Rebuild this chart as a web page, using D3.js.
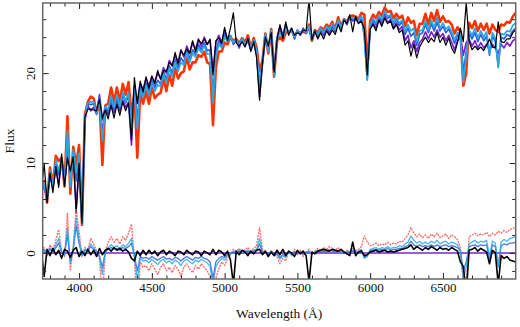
<!DOCTYPE html>
<html>
<head>
<meta charset="utf-8">
<script src="https://cdn.jsdelivr.net/npm/d3@7/dist/d3.min.js"></script>
<style>
  body { margin: 0; background: #fff; }
  svg { display: block; font-family: "Liberation Serif", "DejaVu Serif", serif; }
</style>
</head>
<body>
<div id="chart"></div>
<script>
// wavelength grid (Angstrom), 20 A sampling
const lamStart = 3740, lamStep = 20;

// reference model flux (purple); the model spectra are reference + residual
const fluxRef = [
  6.8, 7.4, 6.0, 8.6, 7.2, 9.4, 7.6, 10.4, 7.8, 10.8,
  8.6, 11.0, 5.0, 9.6, 3.5, 14.8, 16.4, 15.8, 16.2, 15.4,
  17.6, 14.8, 16.2, 15.4, 16.6, 15.6, 16.8, 15.8, 17.0, 16.2,
  16.8, 12.0, 18.6, 16.8, 18.8, 18.2, 19.4, 18.6, 19.6, 19.0,
  20.0, 19.4, 20.6, 20.0, 21.4, 20.8, 22.0, 21.2, 22.6, 21.8,
  23.0, 22.2, 23.4, 22.6, 23.8, 23.0, 24.0, 23.2, 23.6, 20.2,
  23.4, 24.2, 23.4, 24.8, 23.8, 24.2, 23.2, 23.6, 22.8, 23.8,
  23.0, 23.6, 22.6, 23.4, 22.0, 17.4, 21.0, 24.2, 22.6, 24.6,
  19.8, 24.0, 25.2, 24.2, 25.4, 24.4, 25.0, 23.8, 24.8, 24.2,
  25.0, 24.4, 25.0, 23.8, 24.6, 24.0, 24.8, 24.2, 25.0, 24.4,
  25.2, 24.6, 25.6, 25.0, 26.0, 25.4, 26.2, 25.8, 26.0, 25.6,
  26.0, 24.6, 19.6, 25.0, 25.6, 25.0, 26.0, 25.4, 26.4, 25.6,
  26.0, 25.0, 25.6, 24.8, 25.2, 23.6, 24.2, 22.8, 23.6, 22.4,
  23.4, 23.8, 24.6, 23.8, 24.6, 24.0, 24.8, 24.0, 24.4, 23.6,
  24.2, 23.4, 22.6, 23.6, 24.0, 22.0, 23.4, 23.8, 23.0, 23.6,
  22.8, 23.4, 22.8, 23.2, 22.6, 23.2, 22.8, 22.2, 23.2, 22.8,
  23.4, 23.0, 23.6, 23.8
];

// residuals of the models (model - reference)
const resRed = [
  0.2, 0.6, -0.4, 0.9, 0.3, 1.4, 2.6, 0.2, -0.4, 4.4,
  -2.0, 0.8, 4.8, 2.4, -0.4, 0.6, 0.4, 1.6, 1.0, 0.2,
  -0.6, -5.0, 0.2, 1.2, 1.8, 1.2, 1.6, 1.0, 1.8, 1.4,
  2.2, 3.2, -0.6, -6.2, -1.0, -1.6, -1.4, -2.0, -1.2, -1.8,
  -2.4, -1.6, -1.2, -2.0, -1.6, -2.2, -1.4, -1.8, -2.6, -1.6,
  -1.2, -1.8, -2.2, -1.4, -1.8, -1.2, -1.6, -2.0, -2.6, -6.0,
  -2.8, -1.8, -1.0, -1.4, -0.6, -0.2, 0.4, 0.2, 0.5, 0.1,
  0.4, 0.6, 0.2, 0.5, 0.8, 2.8, 0.4, 0.2, -0.4, 0.3,
  -0.2, -0.4, -1.2, -0.6, -0.9, 0.2, -0.3, 0.4, -0.2, 0.3,
  -0.4, 0.1, 0.4, -0.2, 0.2, 0.5, 0.3, 0.6, 0.4, 0.7,
  0.5, 0.3, 0.6, 0.2, 0.0, 0.3, 0.1, 0.6, 0.3, 0.4,
  0.7, 1.9, 1.2, 0.8, 0.9, 1.1, 0.8, 1.0, 0.9, 1.2,
  0.9, 1.1, 1.0, 1.3, 1.2, 1.6, 2.0, 2.8, 2.2, 1.8,
  2.1, 1.7, 2.0, 1.6, 2.1, 1.8, 2.2, 1.7, 1.9, 2.1,
  1.6, 2.0, 1.8, 1.5, 0.6, -3.4, -3.4, 1.8, 2.0, 2.2,
  1.9, 2.1, 2.0, 2.3, 1.8, 2.2, 2.0, 2.4, 2.2, 2.5,
  2.3, 2.6, 2.7, 2.9
];
const resCyan = [
  0.1, 0.4, -0.2, 0.6, 0.2, 0.9, 1.6, 0.1, -0.3, 2.8,
  -1.2, 0.5, 3.9, 1.5, -0.3, 0.4, 0.3, 1.0, 0.6, 0.1,
  -0.4, -2.4, 0.1, 0.6, 0.9, 0.6, 0.8, 0.5, 0.9, 0.7,
  1.1, 1.6, -0.4, -3.0, -0.6, -0.9, -0.8, -1.1, -0.7, -1.0,
  -1.3, -0.9, -0.7, -1.1, -0.9, -1.2, -0.8, -1.0, -1.4, -0.9,
  -0.7, -1.0, -1.2, -0.8, -1.0, -0.7, -0.9, -1.1, -1.5, -3.6,
  -1.5, -1.0, -0.6, -0.8, -0.3, -0.1, 0.2, 0.1, 0.3, 0.0,
  0.2, 0.3, 0.1, 0.3, 0.4, 1.6, 0.2, 0.1, -0.2, 0.2,
  -0.1, -0.2, -0.7, -0.3, -0.5, 0.1, -0.2, 0.2, -0.1, 0.2,
  -0.2, 0.1, 0.2, -0.1, 0.1, 0.3, 0.2, 0.3, 0.2, 0.4,
  0.3, 0.2, 0.3, 0.1, 0.0, 0.2, 0.1, 0.3, 0.2, 0.2,
  0.4, -0.6, -0.4, 0.4, 0.5, 0.6, 0.4, 0.6, 0.5, 0.7,
  0.5, 0.6, 0.6, 0.8, 0.7, 1.0, 1.2, 1.9, 1.4, 1.1,
  1.3, 1.0, 1.2, 1.0, 1.3, 1.1, 1.4, 1.0, 1.2, 1.3,
  1.0, 1.2, 1.1, 0.9, 0.3, -3.0, -1.5, 1.0, 1.2, 1.4,
  1.1, 1.3, 1.2, 1.4, -0.4, 1.3, 1.1, -1.6, 1.2, 1.5,
  1.3, 1.6, 1.7, 1.8
];
const resBlue = [
  0.0, 0.3, -0.1, 0.4, 0.1, 0.6, 1.1, 0.0, -0.2, 2.0,
  -0.9, 0.3, 3.0, 1.0, -0.2, 0.3, 0.2, 0.7, 0.4, 0.1,
  -0.3, -1.6, 0.1, 0.4, 0.6, 0.4, 0.5, 0.3, 0.6, 0.5,
  0.7, 1.1, -0.3, -2.0, -0.4, -0.6, -0.5, -0.7, -0.4, -0.6,
  -0.8, -0.6, -0.4, -0.7, -0.6, -0.8, -0.5, -0.6, -0.9, -0.6,
  -0.4, -0.6, -0.8, -0.5, -0.6, -0.4, -0.6, -0.7, -1.0, -2.8,
  -1.0, -0.6, -0.4, -0.5, -0.2, -0.1, 0.1, 0.1, 0.2, 0.0,
  0.1, 0.2, 0.1, 0.2, 0.3, 1.0, 0.1, 0.1, -0.1, 0.1,
  -0.1, -0.1, -0.5, -0.2, -0.3, 0.1, -0.1, 0.1, -0.1, 0.1,
  -0.1, 0.1, 0.1, -0.1, 0.1, 0.2, 0.1, 0.2, 0.1, 0.3,
  0.2, 0.1, 0.2, 0.1, 0.0, 0.1, 0.1, 0.2, 0.1, 0.1,
  0.3, -0.5, -0.3, 0.3, 0.3, 0.4, 0.3, 0.4, 0.3, 0.5,
  0.3, 0.4, 0.4, 0.5, 0.5, 0.7, 0.8, 1.3, 0.9, 0.7,
  0.9, 0.7, 0.8, 0.7, 0.9, 0.7, 0.9, 0.7, 0.8, 0.9,
  0.7, 0.8, 0.7, 0.6, 0.2, -2.0, -1.0, 0.7, 0.8, 0.9,
  0.7, 0.9, 0.8, 0.9, -0.6, 0.9, 0.7, -1.4, 0.8, 1.0,
  0.9, 1.1, 1.1, 1.2
];
// residual of the observed spectrum (reference - observed)
const resBlack = [
  0.3, -2.6, 0.4, -0.3, 0.5, -0.2, 0.3, -0.6, 0.4, 0.2,
  -0.5, 0.3, 0.6, -0.4, 0.2, -0.3, 0.4, -0.2, 0.3, -0.4,
  0.5, -0.2, 0.3, 0.5, 0.2, 0.6, 0.3, 0.5, 0.2, 0.4,
  0.1, -0.6, -0.9, 0.2, -0.3, 0.3, -0.2, 0.3, -0.1, 0.2,
  -0.3, 0.1, 0.3, -0.2, 0.2, 0.0, -0.3, 0.2, 0.1, -0.2,
  0.3, 0.0, -0.2, 0.2, 0.1, -0.3, 0.2, 0.0, -0.2, 0.4,
  -0.2, 0.3, 0.1, -0.3, 0.2, -0.8, -3.5, 0.2, -0.2, 0.3,
  0.1, -0.3, 0.2, -0.1, 0.3, 0.4, -0.2, 0.2, -0.4, 0.1,
  -0.3, 0.3, -0.2, 0.4, -0.3, 0.2, 0.0, -0.4, 0.3, -0.1,
  0.2, -0.3, -3.2, 0.1, -0.1, 0.2, 0.3, 0.4, 0.3, 0.2,
  0.4, 0.3, 0.2, 0.4, 0.1, -0.1, -0.3, 1.2, -0.3, 0.1,
  0.2, -0.3, -0.2, 0.1, 0.2, 0.3, 0.1, 0.2, 0.3, 0.1,
  0.2, 0.1, 0.2, 0.3, 0.4, 0.5, 0.6, 0.9, 0.4, 0.7,
  0.5, 0.3, 0.6, 0.4, 0.7, 0.5, 0.3, 0.6, 0.4, 0.5,
  0.3, 0.6, 0.4, 0.2, -1.0, -1.5, -4.5, 0.3, 0.4, 0.6,
  0.2, 0.5, 0.3, 0.1, -1.2, 0.3, 0.0, -3.5, -0.3, -0.6,
  -0.4, -0.8, -0.9, -1.0
];

const xTicks = [4000, 4500, 5000, 5500, 6000, 6500];
const yTicks = [0, 10, 20];

const W = 520, H = 327;
const plot = {left: 42.7, right: 515.7, top: 3, bottom: 279};

const svg = d3.select("#chart").append("svg")
    .attr("width", W)
    .attr("height", H);

const x = d3.scaleLinear().domain([3750, 7000]).range([plot.left, plot.right]);
const y = d3.scaleLinear().domain([-2.9, 27.8]).range([plot.bottom, plot.top]);

const lam = fluxRef.map((d, i) => lamStart + i * lamStep);

svg.append("defs").append("clipPath")
    .attr("id", "clip")
    .append("rect")
    .attr("x", plot.left)
    .attr("y", plot.top)
    .attr("width", plot.right - plot.left)
    .attr("height", plot.bottom - plot.top);

const line = d3.line()
    .x(d => x(d[0]))
    .y(d => y(d[1]));

const g = svg.append("g").attr("clip-path", "url(#clip)");

// sign: +1 model = ref + res, -1 observed = ref - res
const spectra = [
    {name: "red", res: resRed, sign: 1, color: "#ff3300", width: 2.6},
    {name: "purple", res: null, sign: 1, color: "#7a22d0", width: 1.7},
    {name: "blue", res: resBlue, sign: 1, color: "#2f5fd8", width: 1.7},
    {name: "cyan", res: resCyan, sign: 1, color: "#27a8e6", width: 1.7},
    {name: "black", res: resBlack, sign: -1, color: "#000000", width: 1.2}
];

// upper panel
spectra.forEach(s => {
    const pts = fluxRef.map((f, i) => [lam[i], f + (s.res ? s.sign * s.res[i] : 0)]);
    g.append("path")
        .attr("d", line(pts))
        .attr("fill", "none")
        .attr("stroke", s.color)
        .attr("stroke-width", s.width)
        .attr("stroke-linejoin", "round");
});

// residual panel
spectra.forEach(s => {
    const pts = fluxRef.map((f, i) => [lam[i], s.res ? s.res[i] : 0]);
    const p = g.append("path")
        .attr("d", line(pts))
        .attr("fill", "none")
        .attr("stroke", s.color)
        .attr("stroke-linejoin", "round");
    if (s.name === "red") {
        p.attr("stroke", "#ff4a4a").attr("stroke-width", 1.4)
         .attr("stroke-dasharray", "2,1").attr("opacity", 0.8);
    } else if (s.name === "black") {
        p.attr("stroke-width", 1.6);
    } else if (s.res) {
        p.attr("stroke-width", 1.3).attr("opacity", 0.85);
    } else {
        p.attr("stroke-width", 1.4);
    }
});

// axes, ticks pointing inward on all four sides
const minorX = d3.range(3800, 7000, 100).filter(v => v % 500 !== 0);
const minorY = d3.range(-2, 28, 2).filter(v => v % 10 !== 0);

function styleAxis(sel) {
    sel.select(".domain").remove();
    sel.selectAll(".tick line").attr("stroke", "#222").attr("stroke-width", 1);
    sel.selectAll(".tick text")
        .attr("fill", "#111")
        .attr("font-size", 13)
        .attr("font-family", "Liberation Serif, DejaVu Serif, serif");
}

svg.append("g")
    .attr("transform", `translate(0,${plot.bottom})`)
    .call(d3.axisBottom(x).tickValues(xTicks).tickSize(-6).tickPadding(4).tickFormat(d3.format("d")))
    .call(styleAxis);
svg.append("g")
    .attr("transform", `translate(0,${plot.bottom})`)
    .call(d3.axisBottom(x).tickValues(minorX).tickSize(-3.5).tickFormat(""))
    .call(styleAxis);
svg.append("g")
    .attr("transform", `translate(0,${plot.top})`)
    .call(d3.axisTop(x).tickValues(xTicks).tickSize(-6).tickFormat(""))
    .call(styleAxis);
svg.append("g")
    .attr("transform", `translate(0,${plot.top})`)
    .call(d3.axisTop(x).tickValues(minorX).tickSize(-3.5).tickFormat(""))
    .call(styleAxis);

const yAxis = svg.append("g")
    .attr("transform", `translate(${plot.left},0)`)
    .call(d3.axisLeft(y).tickValues(yTicks).tickSize(-6).tickFormat(d3.format("d")))
    .call(styleAxis);
yAxis.selectAll(".tick text")
    .attr("transform", "rotate(-90)")
    .attr("x", 0)
    .attr("y", -8)
    .attr("dy", 0)
    .attr("text-anchor", "middle");
svg.append("g")
    .attr("transform", `translate(${plot.left},0)`)
    .call(d3.axisLeft(y).tickValues(minorY).tickSize(-3.5).tickFormat(""))
    .call(styleAxis);
svg.append("g")
    .attr("transform", `translate(${plot.right},0)`)
    .call(d3.axisRight(y).tickValues(yTicks).tickSize(-6).tickFormat(""))
    .call(styleAxis);
svg.append("g")
    .attr("transform", `translate(${plot.right},0)`)
    .call(d3.axisRight(y).tickValues(minorY).tickSize(-3.5).tickFormat(""))
    .call(styleAxis);

// frame
svg.append("rect")
    .attr("x", plot.left)
    .attr("y", plot.top)
    .attr("width", plot.right - plot.left)
    .attr("height", plot.bottom - plot.top)
    .attr("fill", "none")
    .attr("stroke", "#666")
    .attr("stroke-width", 1.5);

// axis titles
svg.append("text")
    .attr("x", (plot.left + plot.right) / 2)
    .attr("y", 318)
    .attr("text-anchor", "middle")
    .attr("font-size", 13.5)
    .attr("fill", "#111")
    .text("Wavelength (Å)");

svg.append("text")
    .attr("transform", `translate(14,${(plot.top + plot.bottom) / 2}) rotate(-90)`)
    .attr("text-anchor", "middle")
    .attr("font-size", 13.5)
    .attr("fill", "#111")
    .text("Flux");
</script>
</body>
</html>
